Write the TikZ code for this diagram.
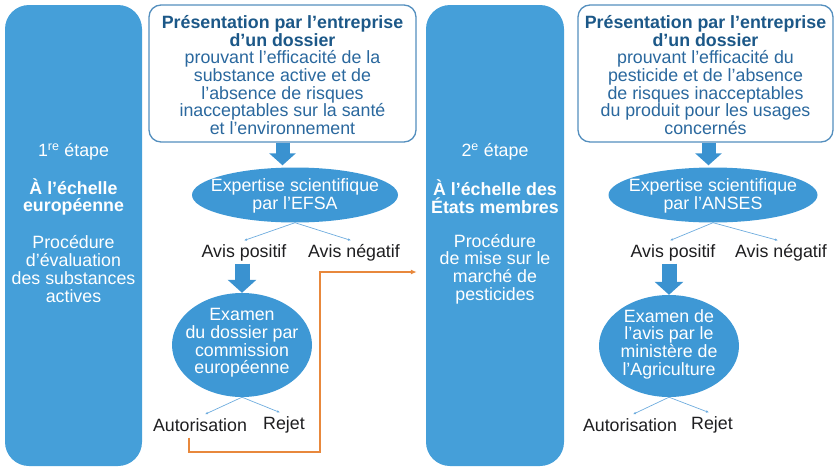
\documentclass[tikz,border=0pt]{standalone}
\usepackage{fontspec}
\setmainfont{Liberation Sans}
\usetikzlibrary{arrows.meta,shapes.geometric}
\definecolor{panelblue}{RGB}{69,159,217}
\definecolor{ellblue}{RGB}{62,152,213}
\definecolor{boxborder}{RGB}{84,143,190}
\definecolor{headblue}{RGB}{28,88,136}
\definecolor{bodyblue}{RGB}{42,104,158}
\definecolor{textdark}{RGB}{30,30,32}
\definecolor{arrowblue}{RGB}{58,146,208}
\definecolor{leadblue}{RGB}{110,172,222}
\definecolor{orangec}{RGB}{232,136,60}
\begin{document}
\begin{tikzpicture}[x=1pt,y=-1pt,
  every node/.style={font=\fontsize{17.8}{17.7}\selectfont, align=center, inner sep=0pt},
  panel/.style={fill=panelblue, rounded corners=24pt, minimum width=137pt, minimum height=461pt},
  paneltext/.style={text=white},
  infobox/.style={draw=boxborder, line width=1.3pt, fill=white, rounded corners=12pt, text=bodyblue},
  bubble/.style={ellipse, fill=ellblue},
  bubbletext/.style={text=white},
  outcome/.style={text=textdark},
  bigarrow/.style={draw=arrowblue, line width=14pt, -{Triangle[width=26pt,length=12pt]}},
  leadline/.style={draw=leadblue, line width=0.7pt, -{Latex[length=3pt,width=2.6pt]}},
  returnpath/.style={draw=orangec, line width=1.6pt, -{Latex[length=6pt,width=5pt]}}
]
\useasboundingbox (0,0) rectangle (836,469);

% ---------- step 1 ----------
\node[panel] (p1) at (73.5,235.5) {};
\node[paneltext] (p1a) at (73.5,152) {1\textsuperscript{re} étape};
\node[paneltext,font=\fontsize{17.8}{17.7}\selectfont\bfseries] (p1b) at (73.5,197) {À l’échelle\\européenne};
\node[paneltext] (p1c) at (73.5,269) {Procédure\\d’évaluation\\des substances\\actives};

\node[infobox, minimum width=267pt, minimum height=137pt] (b1) at (282.5,73.5) {};
\node[text=bodyblue] (b1t) at (282.5,75) {{\bfseries\color{headblue}Présentation par l’entreprise}\\{\bfseries\color{headblue}d’un dossier}\\prouvant l’efficacité de la\\substance active et de\\l’absence de risques\\inacceptables sur la santé\\et l’environnement};

\node[bubble, minimum width=206pt, minimum height=55pt] (e1) at (295,195) {};
\node[bubbletext] (e1t) at (295,196) {Expertise scientifique\\par l’EFSA};
\draw[bigarrow, shorten >=2pt, shorten <=0pt] (b1.south) -- (b1.south |- e1.north);

\node[outcome] (ap1) at (244,253) {Avis positif};
\node[outcome] (an1) at (354,253) {Avis négatif};
\draw[leadline] (e1.south) -- ([yshift=4pt]ap1.north);
\draw[leadline] (e1.south) -- ([yshift=4pt,xshift=-3pt]an1.north);

\node[bubble, minimum width=140pt, minimum height=104pt] (e2) at (242,345) {};
\node[bubbletext] (e2t) at (242,343) {Examen\\du dossier par\\commission\\européenne};
\draw[bigarrow, line width=15pt, -{Triangle[width=28pt,length=13pt]}, shorten <=2pt, shorten >=0pt] (ap1.south -| e2.north) -- (e2.north);

\node[outcome] (au1) at (200,425) {Autorisation};
\node[outcome] (rj1) at (284,425) {Rejet};
\draw[leadline] (e2.south) -- ([yshift=4pt,xshift=5pt]au1.north);
\draw[leadline] (e2.south) -- ([yshift=4pt,xshift=-4pt]rj1.north);

% ---------- step 2 ----------
\node[panel, minimum width=138pt] (p2) at (495,235.5) {};
\node[paneltext] (p2a) at (495,152) {2\textsuperscript{e} étape};
\node[paneltext,font=\fontsize{17.8}{17.7}\selectfont\bfseries] (p2b) at (495,197) {À l’échelle des\\États membres};
\node[paneltext] (p2c) at (495,269) {Procédure\\de mise sur le\\marché de\\pesticides};

\node[infobox, minimum width=255pt, minimum height=137pt] (b2) at (705.5,73.5) {};
\node[text=bodyblue] (b2t) at (705.5,75) {{\bfseries\color{headblue}Présentation par l’entreprise}\\{\bfseries\color{headblue}d’un dossier}\\prouvant l’efficacité du\\pesticide et de l’absence\\de risques inacceptables\\du produit pour les usages\\concernés};

\node[bubble, minimum width=209pt, minimum height=55pt] (e3) at (713,195) {};
\node[bubbletext] (e3t) at (713,196) {Expertise scientifique\\par l’ANSES};
\draw[bigarrow, shorten >=2pt, shorten <=0pt] ([xshift=3pt]b2.south) -- ([xshift=3pt]b2.south |- e3.north);

\node[outcome] (ap2) at (673,253) {Avis positif};
\node[outcome] (an2) at (781,253) {Avis négatif};
\draw[leadline] (e3.south) -- ([yshift=4pt,xshift=-3pt]ap2.north);
\draw[leadline] (e3.south) -- ([yshift=4pt,xshift=-3pt]an2.north);

\node[bubble, minimum width=140pt, minimum height=102pt] (e4) at (669,346) {};
\node[bubbletext] (e4t) at (669,344) {Examen de\\l’avis par le\\ministère de\\l’Agriculture};
\draw[bigarrow, line width=15pt, -{Triangle[width=28pt,length=13pt]}, shorten <=2pt, shorten >=0pt] (ap2.south -| e4.north) -- (e4.north);

\node[outcome] (au2) at (630,425) {Autorisation};
\node[outcome] (rj2) at (712,425) {Rejet};
\draw[leadline] (e4.south) -- ([yshift=4pt,xshift=3pt]au2.north);
\draw[leadline] (e4.south) -- ([yshift=4pt,xshift=-3pt]rj2.north);

% ---------- link between steps ----------
\coordinate (ry) at (0,272);
\coordinate (rb) at (320,452);
\draw[returnpath] ([xshift=-11pt,yshift=-6pt]au1.south) |- (rb) |- ([xshift=-9pt]p2.west |- ry);
\end{tikzpicture}
\end{document}
